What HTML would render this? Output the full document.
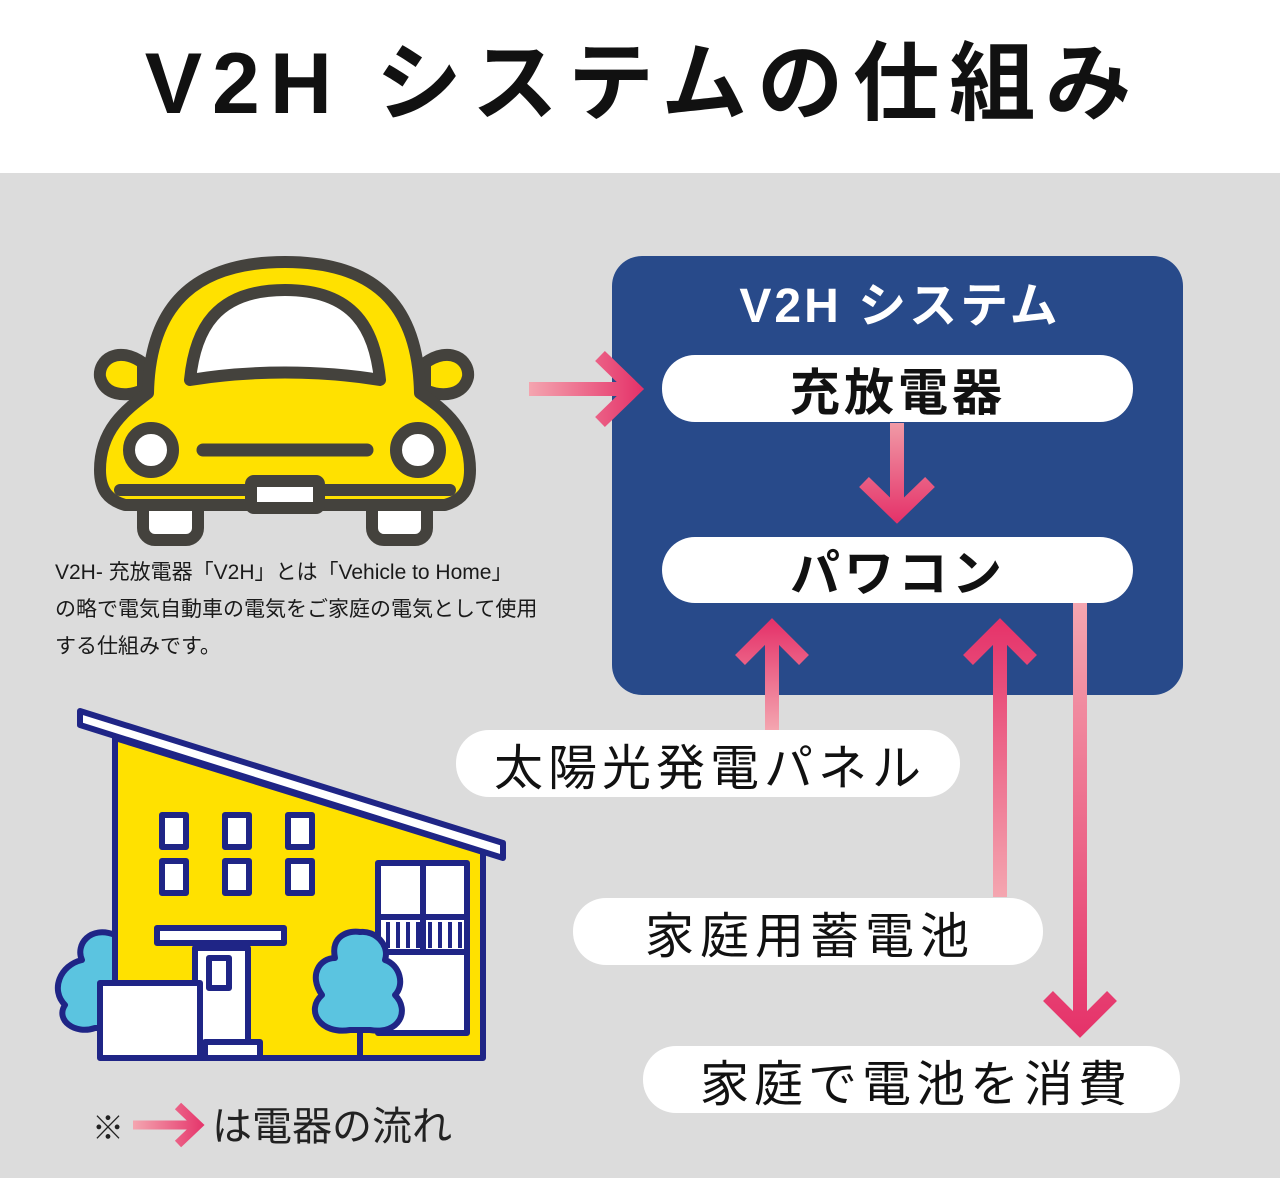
<!DOCTYPE html>
<html><head><meta charset="utf-8"><style>
html,body{margin:0;padding:0;}
body{width:1280px;height:1178px;overflow:hidden;background:#dcdcdc;}
svg{display:block;}
text{font-family:"Liberation Sans","Noto Sans CJK JP",sans-serif;}
</style></head><body>
<svg width="1280" height="1178" viewBox="0 0 1280 1178" xmlns="http://www.w3.org/2000/svg">
<defs>
<linearGradient id="gh" gradientUnits="userSpaceOnUse" x1="528" y1="0" x2="641" y2="0"><stop offset="0" stop-color="#f4a6b0"/><stop offset="1" stop-color="#e5336a"/></linearGradient>
<linearGradient id="gd1" gradientUnits="userSpaceOnUse" x1="0" y1="423" x2="0" y2="521"><stop offset="0" stop-color="#f09aa6"/><stop offset="1" stop-color="#e5336a"/></linearGradient>
<linearGradient id="gu1" gradientUnits="userSpaceOnUse" x1="0" y1="730" x2="0" y2="622"><stop offset="0" stop-color="#f4a6b0"/><stop offset="1" stop-color="#e5336a"/></linearGradient>
<linearGradient id="gu2" gradientUnits="userSpaceOnUse" x1="0" y1="897" x2="0" y2="622"><stop offset="0" stop-color="#f4a6b0"/><stop offset="1" stop-color="#e5336a"/></linearGradient>
<linearGradient id="gd2" gradientUnits="userSpaceOnUse" x1="0" y1="603" x2="0" y2="1033"><stop offset="0" stop-color="#f4a6b0"/><stop offset="1" stop-color="#e5336a"/></linearGradient>
<linearGradient id="gl" gradientUnits="userSpaceOnUse" x1="133" y1="0" x2="205" y2="0"><stop offset="0" stop-color="#f4a6b0"/><stop offset="1" stop-color="#e5336a"/></linearGradient>
</defs>
<rect x="0" y="0" width="1280" height="173" fill="#fff"/>
<text x="643" y="113" text-anchor="middle" font-size="86" font-weight="bold" fill="#111" letter-spacing="10">V2H システムの仕組み</text>

<!-- blue box -->
<rect x="612" y="256" width="571" height="439" rx="30" fill="#284a8a"/>
<text x="900" y="322" text-anchor="middle" font-size="48" font-weight="bold" fill="#fff" letter-spacing="3">V2H システム</text>
<rect x="662" y="355" width="471" height="67" rx="33" fill="#fff"/>
<text x="898" y="410" text-anchor="middle" font-size="50" font-weight="bold" fill="#111" letter-spacing="4">充放電器</text>
<rect x="662" y="537" width="471" height="66" rx="33" fill="#fff"/>
<text x="898" y="591" text-anchor="middle" font-size="50" font-weight="bold" fill="#111" letter-spacing="4">パワコン</text>

<!-- arrows -->
<g fill="none" stroke-width="14">
<line x1="529" y1="389" x2="632" y2="389" stroke="url(#gh)"/>
<polyline points="600,356 634,389 600,422" stroke="url(#gh)"/>
<line x1="897" y1="423" x2="897" y2="513" stroke="url(#gd1)"/>
<polyline points="864,482 897,514 930,482" stroke="url(#gd1)"/>
<line x1="772" y1="730" x2="772" y2="630" stroke="url(#gu1)"/>
<polyline points="740,660 772,628 804,660" stroke="url(#gu1)"/>
<line x1="1000" y1="897" x2="1000" y2="630" stroke="url(#gu2)"/>
<polyline points="968,660 1000,628 1032,660" stroke="url(#gu2)"/>
<line x1="1080" y1="603" x2="1080" y2="1025" stroke="url(#gd2)"/>
<polyline points="1048,996 1080,1028 1112,996" stroke="url(#gd2)"/>
</g>

<rect x="456" y="730" width="504" height="67" rx="33" fill="#fff"/>
<text x="710" y="785" text-anchor="middle" font-size="49" fill="#111" letter-spacing="5">太陽光発電パネル</text>
<rect x="573" y="898" width="470" height="67" rx="33" fill="#fff"/>
<text x="810" y="953" text-anchor="middle" font-size="49" fill="#111" letter-spacing="6">家庭用蓄電池</text>
<rect x="643" y="1046" width="537" height="67" rx="33" fill="#fff"/>
<text x="916" y="1101" text-anchor="middle" font-size="49" fill="#111" letter-spacing="5">家庭で電池を消費</text>

<!-- caption -->
<g font-size="21" fill="#1a1a1a">
<text x="55" y="579">V2H- 充放電器「V2H」とは「Vehicle to Home」</text>
<text x="55" y="616">の略で電気自動車の電気をご家庭の電気として使用</text>
<text x="55" y="653">する仕組みです。</text>
</g>

<!-- legend -->
<text x="92" y="1139" font-size="32" fill="#222">※</text>
<line x1="133" y1="1125" x2="196" y2="1125" stroke="url(#gl)" stroke-width="9"/>
<polyline points="178,1106 198,1125 178,1144" fill="none" stroke="url(#gl)" stroke-width="9"/>
<text x="212" y="1140" font-size="40" fill="#222">は電器の流れ</text>

<!-- car -->
<g stroke="#44423d" stroke-width="12" stroke-linejoin="round" stroke-linecap="round">
<rect x="143" y="485" width="55" height="55" rx="12" fill="#fff"/>
<rect x="372" y="485" width="55" height="55" rx="12" fill="#fff"/>
<path d="M143,363 C118,345 98,360 100,377 C104,395 125,398 143,390 Z" fill="#ffe100"/>
<path d="M425,363 C450,345 470,360 468,377 C464,395 443,398 425,390 Z" fill="#ffe100"/>
<path d="M148,393 C150,300 200,262 285,262 C370,262 418,300 420,393 C445,410 470,430 470,470 C470,490 462,500 445,505 L125,505 C108,500 100,490 100,470 C100,430 125,410 148,393 Z" fill="#ffe100"/>
<path d="M120,490 L450,490" fill="none"/>
<path d="M190,380 C195,330 215,290 285,290 C355,290 375,330 380,380 C320,370 250,370 190,380 Z" fill="#fff"/>
<circle cx="151" cy="450" r="22" fill="#fff"/>
<circle cx="418" cy="450" r="22" fill="#fff"/>
<line x1="203" y1="450" x2="367" y2="450" stroke-width="13"/>
<rect x="251" y="481" width="68" height="27" rx="3" fill="#fff"/>
</g>

<!-- house -->
<g stroke="#1f2586" stroke-width="6" stroke-linejoin="round">
<path d="M115,935 C90,925 75,945 82,960 C60,965 50,990 65,1005 C55,1020 75,1035 95,1028 L115,1028 Z" fill="#5bc4e0"/>
<polygon points="115,738 483,852 483,1058 115,1058" fill="#ffe100"/>
<polygon points="80,711 503,843 503,858 80,725" fill="#fff"/>
<rect x="162" y="815" width="24" height="32" fill="#fff"/>
<rect x="225" y="815" width="24" height="32" fill="#fff"/>
<rect x="288" y="815" width="24" height="32" fill="#fff"/>
<rect x="162" y="861" width="24" height="32" fill="#fff"/>
<rect x="225" y="861" width="24" height="32" fill="#fff"/>
<rect x="288" y="861" width="24" height="32" fill="#fff"/>
<rect x="378" y="863" width="89" height="170" fill="#fff"/>
<line x1="423" y1="863" x2="423" y2="950"/>
<line x1="378" y1="917" x2="467" y2="917"/>
<line x1="378" y1="952" x2="467" y2="952"/>
<rect x="157" y="928" width="127" height="15" fill="#fff"/>
<rect x="195" y="948" width="53" height="95" fill="#fff"/>
<rect x="209" y="958" width="20" height="30" fill="#fff"/>
<rect x="205" y="1042" width="55" height="16" fill="#fff"/>
<rect x="100" y="983" width="100" height="75" fill="#fff"/>
<path d="M350,1030 C320,1035 305,1010 322,995 C308,975 320,958 335,958 C330,935 350,930 360,932 C375,930 390,945 385,960 C400,965 405,985 395,995 C410,1010 400,1035 370,1030 Z" fill="#5bc4e0"/>
<line x1="360" y1="1030" x2="360" y2="1058"/>
</g>
<g stroke="#1f2586" stroke-width="4" fill="none">
<line x1="388" y1="922" x2="388" y2="948"/><line x1="398" y1="922" x2="398" y2="948"/><line x1="408" y1="922" x2="408" y2="948"/><line x1="418" y1="922" x2="418" y2="948"/><line x1="430" y1="922" x2="430" y2="948"/><line x1="440" y1="922" x2="440" y2="948"/><line x1="450" y1="922" x2="450" y2="948"/><line x1="460" y1="922" x2="460" y2="948"/>
</g>
</svg>
</body></html>
